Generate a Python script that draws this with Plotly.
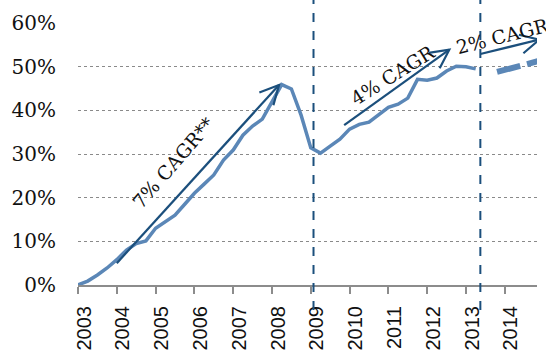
import math
import plotly.graph_objects as go

# ---------------- data ----------------
quarters = [2003 + 0.25 * i for i in range(42)]  # 2003.00 .. 2013.25
share = [0.0, 0.9, 2.3, 3.9, 5.8, 8.0, 9.5, 10.1, 13.0, 14.6, 16.0, 18.5,
         21.0, 23.1, 25.2, 28.6, 30.9, 34.3, 36.4, 38.0, 42.1, 45.9, 44.9, 38.9,
         31.4, 30.2, 31.8, 33.4, 35.7, 36.8, 37.3, 38.9, 40.7, 41.4, 42.8, 47.1,
         46.9, 47.4, 49.0, 50.1, 50.0, 49.5]
proj_x = [2013.8, 2015.0]
proj_y = [48.8, 51.6]

year_ticks = list(range(2003, 2015))
year_labels = [str(y) for y in year_ticks]
y_ticks = [0, 10, 20, 30, 40, 50, 60]
y_labels = [f"{v}%" for v in y_ticks]

divider_years = [2009.07, 2013.37]
# arrows: (tail_x, tail_y, head_x, head_y)
arrows = [(2004.0, 5.0, 2008.18, 45.8),
          (2009.86, 36.6, 2012.57, 53.9),
          (2013.37, 52.9, 2014.89, 56.2)]
arrow_texts = ["7% CAGR**", "4% CAGR", "2% CAGR"]
text_pos = [(2005.45, 27.9, -49), (2011.1, 48.2, -32), (2013.95, 57.1, -14)]

# ---------------- layout constants ----------------
W, H = 546, 352
ML, MR, MT, MB = 78, 9, 23, 67
XR = [2003, 2014.83]
YR = [0, 60]
PW, PH = W - ML - MR, H - MT - MB

LINE = "#5B87B7"
NAVY = "#1B4F7C"


def to_px(x, y):
    return ((x - XR[0]) / (XR[1] - XR[0]) * PW, (y - YR[0]) / (YR[1] - YR[0]) * PH)


def to_data(px, py):
    return (XR[0] + px / PW * (XR[1] - XR[0]), YR[0] + py / PH * (YR[1] - YR[0]))


fig = go.Figure()
fig.add_trace(go.Scatter(x=quarters, y=share, mode="lines",
                         line=dict(color=LINE, width=3.5), hoverinfo="skip"))
fig.add_trace(go.Scatter(x=proj_x, y=proj_y, mode="lines",
                         line=dict(color=LINE, width=6, dash="24px,7px"),
                         hoverinfo="skip"))

shapes = []
for xv in divider_years:
    shapes.append(dict(type="line", xref="x", yref="paper", x0=xv, x1=xv,
                       y0=-0.095, y1=1.09, line=dict(color=NAVY, width=2, dash="dash"),
                       layer="above"))

for (tx, ty, hx, hy) in arrows:
    shapes.append(dict(type="line", xref="x", yref="y", x0=tx, y0=ty, x1=hx, y1=hy,
                       line=dict(color=NAVY, width=2.2)))
    # open V head computed in pixel space
    p0 = to_px(tx, ty)
    p1 = to_px(hx, hy)
    ang = math.atan2(p0[1] - p1[1], p0[0] - p1[0])
    wings = []
    for d in (-0.47, 0.47):
        a = ang + d
        wings.append(to_data(p1[0] + 21 * math.cos(a), p1[1] + 21 * math.sin(a)))
    path = (f"M {wings[0][0]},{wings[0][1]} L {hx},{hy} L {wings[1][0]},{wings[1][1]}")
    shapes.append(dict(type="path", xref="x", yref="y", path=path,
                       line=dict(color=NAVY, width=2.2)))

annotations = []
for txt, (x, y, a) in zip(arrow_texts, text_pos):
    annotations.append(dict(x=x, y=y, xref="x", yref="y", text=txt, showarrow=False,
                            textangle=a, font=dict(family="DejaVu Serif", size=19,
                                                   color="#111111")))

fig.update_layout(
    width=W, height=H,
    margin=dict(l=ML, r=MR, t=MT, b=MB, pad=0, autoexpand=False),
    paper_bgcolor="white", plot_bgcolor="white",
    showlegend=False,
    shapes=shapes, annotations=annotations,
    xaxis=dict(range=XR, tickvals=year_ticks, ticktext=year_labels, tickangle=-90,
               automargin=False, ticklabelstandoff=4, ticklabelshift=6,
               showgrid=False, zeroline=False, showline=True, linecolor="#8C8C8C",
               linewidth=2, ticks="outside", ticklen=7, tickwidth=1.5,
               tickcolor="#8C8C8C",
               tickfont=dict(family="Liberation Sans", size=20, color="#111111")),
    yaxis=dict(range=YR, tickvals=y_ticks, ticktext=y_labels, showgrid=True,
               automargin=False,
               gridcolor="#8A8A8A", griddash="dot", gridwidth=1.2, zeroline=False,
               showline=False, ticks="", ticklabelstandoff=21,
               tickfont=dict(family="DejaVu Serif", size=20, color="#111111")),
)

fig.write_html("out.html", config={"displayModeBar": False},
               post_script="document.body.style.margin='0';")
